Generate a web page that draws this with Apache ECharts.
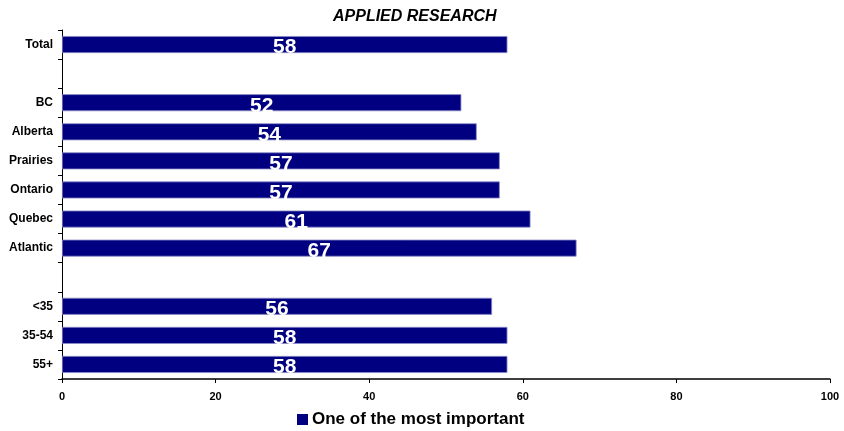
<!DOCTYPE html>
<html>
<head>
<meta charset="utf-8">
<script src="https://cdn.jsdelivr.net/npm/echarts@6/dist/echarts.min.js"></script>
<style>
  html, body { margin: 0; padding: 0; background: #ffffff; }
  #chart { width: 844px; height: 431px; }
</style>
</head>
<body>
<div id="chart"></div>
<script>
// Category rows, top to bottom; empty strings are spacer rows between groups
const categories = ['Total', '', 'BC', 'Alberta', 'Prairies', 'Ontario', 'Quebec', 'Atlantic', '', '<35', '35-54', '55+'];
// Share rating applied research as one of the most important (%)
const values = [58, null, 52, 54, 57, 57, 61, 67, null, 56, 58, 58];
const xTicks = [0, 20, 40, 60, 80, 100];
const seriesName = 'One of the most important';
const chartTitle = 'APPLIED RESEARCH';

const FONT = 'Liberation Sans, Arial, sans-serif';
const chart = echarts.init(document.getElementById('chart'), null, { renderer: 'canvas' });

chart.setOption({
  backgroundColor: '#ffffff',
  animation: false,
  title: {
    text: chartTitle,
    left: 328,
    top: 4,
    textStyle: { fontFamily: FONT, fontSize: 16, fontWeight: 'bold', fontStyle: 'italic', color: '#000' }
  },
  legend: {
    top: 406,
    left: 292,
    itemWidth: 11,
    itemHeight: 11,
    itemGap: 6,
    icon: 'rect',
    data: [seriesName],
    itemStyle: { borderWidth: 0 },
    textStyle: { fontFamily: FONT, fontSize: 17, fontWeight: 'bold', color: '#000', padding: [0, 0, 0, -1] }
  },
  grid: { left: 62, right: 14, top: 30, bottom: 52, containLabel: false },
  xAxis: {
    type: 'value',
    min: xTicks[0],
    max: xTicks[xTicks.length - 1],
    interval: xTicks[1] - xTicks[0],
    axisLine: { show: true, lineStyle: { color: '#000', width: 1.5 } },
    axisTick: { show: true, length: 4, lineStyle: { color: '#000' } },
    splitLine: { show: false },
    axisLabel: { margin: 12, fontFamily: FONT, fontSize: 11, fontWeight: 'bold', color: '#000' }
  },
  yAxis: {
    type: 'category',
    inverse: true,
    data: categories,
    boundaryGap: true,
    axisLine: { show: true, lineStyle: { color: '#000', width: 1 } },
    axisTick: { show: true, inside: false, length: 4, alignWithLabel: false, interval: 0, lineStyle: { color: '#000' } },
    axisLabel: { margin: 9, interval: 0, fontFamily: FONT, fontSize: 12, fontWeight: 'bold', color: '#000' }
  },
  series: [{
    name: seriesName,
    type: 'bar',
    data: values,
    barWidth: 17,
    itemStyle: { color: '#000080', borderColor: '#8c8cc8', borderWidth: 0.8 },
    label: {
      show: true,
      position: 'inside',
      offset: [0, 3],
      fontFamily: FONT,
      fontSize: 21,
      fontWeight: 'bold',
      color: '#ffffff'
    }
  }]
});
</script>
</body>
</html>
